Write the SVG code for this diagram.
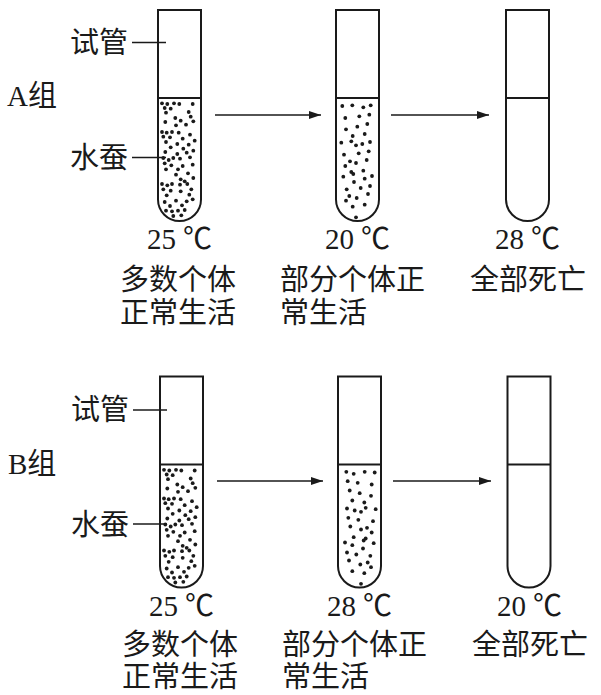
<svg xmlns="http://www.w3.org/2000/svg" xmlns:xlink="http://www.w3.org/1999/xlink" width="601" height="695" viewBox="0 0 601 695">
<style>
.tube{fill:none;stroke:#1a1a1a;stroke-width:2}
.lead{stroke:#1a1a1a;stroke-width:1.6}
.arr{stroke:#1a1a1a;stroke-width:1.6;fill:none}
.dot{fill:#1a1a1a}
.dot circle{r:1.9px}
text{font-family:"Noto Sans CJK SC","Liberation Serif",serif;font-size:29px;fill:#1a1a1a}
.lat{font-family:"Liberation Serif",serif;font-size:29px}
</style>
<defs>
<marker id="ah" viewBox="0 0 12 8" refX="12" refY="4" markerWidth="12" markerHeight="8" markerUnits="userSpaceOnUse" orient="auto">
<path d="M0,0 L12,4 L0,8 Z" fill="#1a1a1a"/>
</marker>
<g id="tubeShape">
<path class="tube" d="M0,0 H43 V189.5 A21.5,21.5 0 0 1 0,189.5 Z"/>
<path class="tube" d="M0,88 H43"/>
</g>
<g id="denseDots" class="dot">
<circle cx="162" cy="103.3" r="1.9"/><circle cx="167.3" cy="104" r="1.9"/><circle cx="174" cy="103.3" r="1.9"/><circle cx="179.3" cy="104" r="1.9"/><circle cx="192.7" cy="104" r="1.9"/>
<circle cx="164.7" cy="108" r="1.9"/><circle cx="170.7" cy="108.7" r="1.9"/><circle cx="166" cy="112.7" r="1.9"/><circle cx="188.7" cy="112" r="1.9"/>
<circle cx="175.3" cy="118" r="1.9"/><circle cx="180.7" cy="120.7" r="1.9"/><circle cx="190.7" cy="116.7" r="1.9"/><circle cx="165.3" cy="122" r="1.9"/><circle cx="186" cy="124.7" r="1.9"/><circle cx="193.3" cy="121.3" r="1.9"/><circle cx="176" cy="125.3" r="1.9"/>
<circle cx="162" cy="132" r="1.9"/><circle cx="166.7" cy="132.7" r="1.9"/><circle cx="172" cy="132" r="1.9"/><circle cx="178.7" cy="132.7" r="1.9"/>
<circle cx="163.3" cy="136.7" r="1.9"/><circle cx="170" cy="137.3" r="1.9"/><circle cx="182.7" cy="138.7" r="1.9"/><circle cx="190" cy="134.7" r="1.9"/>
<circle cx="166" cy="142" r="1.9"/><circle cx="177.3" cy="144" r="1.9"/><circle cx="188.7" cy="144.7" r="1.9"/><circle cx="194.7" cy="140.7" r="1.9"/>
<circle cx="170.7" cy="147.3" r="1.9"/><circle cx="183.3" cy="148.7" r="1.9"/>
<circle cx="165.3" cy="152" r="1.9"/><circle cx="177.3" cy="154" r="1.9"/><circle cx="186.7" cy="152.7" r="1.9"/><circle cx="193.3" cy="150.7" r="1.9"/>
<circle cx="163.3" cy="158" r="1.9"/><circle cx="168.7" cy="160" r="1.9"/><circle cx="173.3" cy="158" r="1.9"/><circle cx="180" cy="158.7" r="1.9"/><circle cx="190" cy="157.3" r="1.9"/>
<circle cx="164.7" cy="163.3" r="1.9"/><circle cx="171.3" cy="165.3" r="1.9"/><circle cx="182.7" cy="166" r="1.9"/><circle cx="192.7" cy="164.7" r="1.9"/>
<circle cx="166" cy="169.3" r="1.9"/><circle cx="178" cy="169.3" r="1.9"/>
<circle cx="176" cy="174.7" r="1.9"/><circle cx="188" cy="173.3" r="1.9"/><circle cx="193.3" cy="178" r="1.9"/><circle cx="180.7" cy="179.3" r="1.9"/><circle cx="184.7" cy="181.3" r="1.9"/>
<circle cx="162" cy="184" r="1.9"/><circle cx="167.3" cy="185.3" r="1.9"/><circle cx="172" cy="184" r="1.9"/><circle cx="180" cy="184.7" r="1.9"/><circle cx="187.3" cy="184" r="1.9"/>
<circle cx="163.3" cy="189.3" r="1.9"/><circle cx="170.7" cy="190.7" r="1.9"/><circle cx="180.7" cy="191.3" r="1.9"/><circle cx="191.3" cy="189.3" r="1.9"/>
<circle cx="166.7" cy="195.3" r="1.9"/><circle cx="189.3" cy="194.7" r="1.9"/>
<circle cx="164.7" cy="202" r="1.9"/><circle cx="176" cy="200.7" r="1.9"/><circle cx="186.7" cy="201.3" r="1.9"/><circle cx="192.7" cy="199.3" r="1.9"/>
<circle cx="170" cy="206" r="1.9"/><circle cx="182" cy="205.3" r="1.9"/>
<circle cx="166" cy="210.7" r="1.9"/><circle cx="172" cy="211.3" r="1.9"/><circle cx="178" cy="210.7" r="1.9"/><circle cx="184.7" cy="210" r="1.9"/>
<circle cx="173.3" cy="216" r="1.9"/><circle cx="181.3" cy="215.3" r="1.9"/>
</g>
<g id="sparseDots" class="dot">
<circle cx="342.3" cy="106" r="1.9"/><circle cx="352.3" cy="105.3" r="1.9"/><circle cx="363.3" cy="107.3" r="1.9"/><circle cx="370.7" cy="105.3" r="1.9"/>
<circle cx="345.3" cy="118" r="1.9"/><circle cx="359.3" cy="116.3" r="1.9"/><circle cx="369.3" cy="114.7" r="1.9"/>
<circle cx="346" cy="129.3" r="1.9"/><circle cx="357.3" cy="126.7" r="1.9"/><circle cx="367.3" cy="124" r="1.9"/>
<circle cx="352.7" cy="136" r="1.9"/><circle cx="364.7" cy="134" r="1.9"/>
<circle cx="341.3" cy="142.7" r="1.9"/><circle cx="351.3" cy="141.3" r="1.9"/><circle cx="356" cy="145.3" r="1.9"/><circle cx="362.3" cy="144" r="1.9"/><circle cx="370" cy="142" r="1.9"/>
<circle cx="344" cy="154.7" r="1.9"/><circle cx="358.7" cy="153.3" r="1.9"/><circle cx="368.7" cy="151.3" r="1.9"/>
<circle cx="350" cy="161.3" r="1.9"/><circle cx="366.7" cy="160" r="1.9"/>
<circle cx="345.3" cy="166" r="1.9"/><circle cx="356" cy="163" r="1.9"/>
<circle cx="351.3" cy="172" r="1.9"/><circle cx="363.3" cy="170.7" r="1.9"/>
<circle cx="343.3" cy="176.7" r="1.9"/><circle cx="353.3" cy="174" r="1.9"/><circle cx="354" cy="182" r="1.9"/><circle cx="364.7" cy="178.7" r="1.9"/><circle cx="372" cy="176" r="1.9"/>
<circle cx="346.7" cy="189.3" r="1.9"/><circle cx="360.7" cy="188" r="1.9"/><circle cx="370" cy="186" r="1.9"/>
<circle cx="349.3" cy="196" r="1.9"/><circle cx="368" cy="194" r="1.9"/>
<circle cx="346" cy="200.7" r="1.9"/><circle cx="356.7" cy="198" r="1.9"/>
<circle cx="352.7" cy="206.7" r="1.9"/><circle cx="364.7" cy="204.7" r="1.9"/>
<circle cx="356" cy="217.3" r="1.9"/>
</g>
</defs>
<rect width="601" height="695" fill="#ffffff"/>

<g id="groupA-label"><text x="7" y="106"><tspan class="lat">A</tspan>组</text></g>
<g id="A-label-tube"><text x="70" y="52.5">试管</text><line class="lead" x1="132" y1="42.5" x2="166" y2="42.5"/></g>
<g id="A-label-silkworm"><text x="70" y="168">水蚕</text><line class="lead" x1="132" y1="157.5" x2="166" y2="157.5"/></g>

<g id="A-tube1">
<use xlink:href="#denseDots"/>
<use xlink:href="#tubeShape" transform="translate(158,10)"/>
<text x="147" y="249"><tspan class="lat">25</tspan><tspan x="183">℃</tspan></text>
<text x="120" y="290">多数个体</text>
<text x="120" y="323">正常生活</text>
</g>
<g id="A-tube2">
<use xlink:href="#sparseDots"/>
<use xlink:href="#tubeShape" transform="translate(336,10)"/>
<text x="325" y="249"><tspan class="lat">20</tspan><tspan x="361">℃</tspan></text>
<text x="280" y="290">部分个体正</text>
<text x="280" y="323">常生活</text>
</g>
<g id="A-tube3">
<use xlink:href="#tubeShape" transform="translate(506,10)"/>
<text x="495" y="249"><tspan class="lat">28</tspan><tspan x="531">℃</tspan></text>
<text x="470" y="290">全部死亡</text>
</g>

<g id="groupB-label"><text x="8" y="474"><tspan class="lat">B</tspan>组</text></g>
<g id="B-label-tube"><text x="71" y="420">试管</text><line class="lead" x1="133" y1="410" x2="167" y2="410"/></g>
<g id="B-label-silkworm"><text x="71" y="535">水蚕</text><line class="lead" x1="133" y1="524" x2="167" y2="524"/></g>

<g id="B-tube1">
<use xlink:href="#denseDots" transform="translate(2,366.5)"/>
<use xlink:href="#tubeShape" transform="translate(160,376.5)"/>
<text x="149" y="616"><tspan class="lat">25</tspan><tspan x="185">℃</tspan></text>
<text x="122" y="655">多数个体</text>
<text x="122" y="686.5">正常生活</text>
</g>
<g id="B-tube2">
<use xlink:href="#sparseDots" transform="translate(717,366.5) scale(-1,1)"/>
<use xlink:href="#tubeShape" transform="translate(338,376.5)"/>
<text x="327" y="616"><tspan class="lat">28</tspan><tspan x="363">℃</tspan></text>
<text x="282" y="655">部分个体正</text>
<text x="282" y="686.5">常生活</text>
</g>
<g id="B-tube3">
<use xlink:href="#tubeShape" transform="translate(507.5,376.5)"/>
<text x="497" y="616"><tspan class="lat">20</tspan><tspan x="533">℃</tspan></text>
<text x="472" y="655">全部死亡</text>
</g>

<g id="connectors">
<line class="arr" x1="215" y1="115" x2="321" y2="115" marker-end="url(#ah)"/>
<line class="arr" x1="391" y1="115" x2="489" y2="115" marker-end="url(#ah)"/>
<line class="arr" x1="217" y1="481" x2="323" y2="481" marker-end="url(#ah)"/>
<line class="arr" x1="393" y1="481" x2="491" y2="481" marker-end="url(#ah)"/>
</g>
</svg>
